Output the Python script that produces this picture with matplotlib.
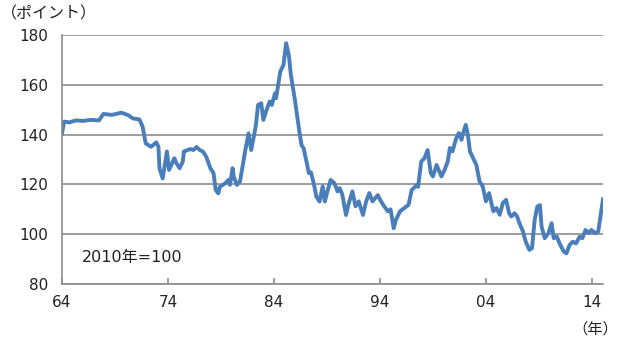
import matplotlib.pyplot as plt

plt.rcParams['font.family'] = ['DejaVu Sans', 'Noto Sans CJK JP']

# index values (year as decimal, 2010 = 100)
years = [
    1964.0, 1964.2, 1964.7, 1965.3, 1966.0, 1966.7, 1967.5, 1967.9, 1968.7, 1969.6,
    1970.2, 1970.7, 1971.3, 1971.6, 1971.9, 1972.4, 1972.9, 1973.1, 1973.2, 1973.5,
    1973.9, 1974.1, 1974.6, 1974.8, 1975.1, 1975.4, 1975.5, 1976.1, 1976.4, 1976.7,
    1977.0, 1977.3, 1977.6, 1978.0, 1978.3, 1978.5, 1978.75, 1978.9, 1979.4, 1979.7,
    1979.85, 1980.1, 1980.2, 1980.5, 1980.8, 1981.3, 1981.6, 1981.85, 1982.1, 1982.3,
    1982.5, 1982.8, 1983.0, 1983.3, 1983.6, 1983.8, 1984.1, 1984.2, 1984.6, 1984.9,
    1985.15, 1985.4, 1985.6, 1986.0, 1986.4, 1986.6, 1986.8, 1987.1, 1987.3, 1987.5,
    1987.8, 1988.0, 1988.3, 1988.6, 1988.8, 1989.0, 1989.35, 1989.7, 1990.0, 1990.2,
    1990.45, 1990.8, 1991.0, 1991.4, 1991.7, 1992.0, 1992.4, 1992.7, 1993.0, 1993.3,
    1993.8, 1994.1, 1994.4, 1994.75, 1995.0, 1995.3, 1995.5, 1995.9, 1996.3, 1996.7,
    1997.0, 1997.5, 1997.6, 1997.9, 1998.2, 1998.5, 1998.8, 1999.0, 1999.35, 1999.8,
    2000.1, 2000.4, 2000.6, 2000.85, 2001.2, 2001.45, 2001.7, 2001.85, 2002.1, 2002.3,
    2002.5, 2002.8, 2003.1, 2003.4, 2003.7, 2004.0, 2004.3, 2004.7, 2005.0, 2005.3,
    2005.6, 2005.9, 2006.2, 2006.4, 2006.7, 2006.95, 2007.1, 2007.5, 2007.75, 2008.1,
    2008.35, 2008.6, 2008.85, 2009.1, 2009.25, 2009.55, 2009.9, 2010.2, 2010.4, 2010.7,
    2010.95, 2011.35, 2011.6, 2011.9, 2012.2, 2012.5, 2012.85, 2013.1, 2013.4, 2013.7,
    2013.95, 2014.3, 2014.6, 2015.05,
]
values = [
    140.5, 145.2, 144.9, 145.7, 145.5, 145.9, 145.7, 148.3, 147.9, 148.8,
    147.9, 146.5, 146.1, 143.3, 136.5, 135.1, 136.9, 135.1, 126.4, 122.4,
    133.2, 125.8, 130.5, 128.5, 126.5, 129.2, 133.2, 134.2, 133.8, 135.0,
    133.8, 133.2, 131.2, 126.5, 124.5, 117.8, 116.4, 119.1, 120.4, 121.8,
    119.8, 126.5, 123.2, 119.8, 121.2, 133.8, 140.5, 133.8, 139.2, 143.9,
    151.9, 152.6, 145.9, 149.9, 153.3, 151.9, 156.6, 154.6, 165.3, 168.0,
    176.7, 172.0, 163.9, 153.3, 141.2, 135.8, 134.5, 128.5, 124.5, 124.8,
    119.5, 115.1, 113.1, 119.2, 113.1, 116.5, 121.8, 120.5, 117.2, 118.5,
    115.9, 107.7, 111.5, 117.2, 111.2, 113.2, 107.7, 113.2, 116.5, 113.2,
    115.7, 113.2, 111.2, 109.2, 110.0, 102.4, 105.7, 109.2, 110.5, 111.8,
    117.8, 119.8, 119.0, 129.2, 130.5, 133.8, 124.5, 123.2, 127.8, 123.2,
    125.8, 129.2, 134.6, 133.3, 138.6, 140.6, 137.9, 140.6, 143.9, 139.9,
    133.2, 130.5, 127.8, 121.2, 119.2, 113.2, 116.5, 109.2, 110.5, 107.8,
    112.5, 113.8, 108.4, 107.1, 108.4, 107.1, 105.1, 101.1, 97.1, 93.7,
    94.4, 105.7, 111.1, 111.7, 103.1, 98.4, 100.4, 104.4, 98.4, 99.0,
    96.3, 93.0, 92.3, 95.7, 97.0, 96.3, 99.0, 98.4, 101.7, 100.4,
    101.7, 100.4, 101.1, 114.0,
]

tick_years = [1964, 1974, 1984, 1994, 2004, 2014]
tick_labels = ['64', '74', '84', '94', '04', '14']
y_ticks = [80, 100, 120, 140, 160, 180]

grid_color = '#8c8c8c'
text_color = '#222222'
cjk = ['Noto Sans CJK JP']

fig = plt.figure(figsize=(6.19, 3.39), dpi=100)
ax = fig.add_axes([62 / 619, 1 - 284 / 339, 541 / 619, 249 / 339])

ax.plot(years, values, color='#4a7ebb', lw=2.8, solid_joinstyle='round')

ax.set_xlim(1964.0, 2015.05)
ax.set_ylim(80, 180)
ax.set_yticks(y_ticks)
ax.set_xticks(tick_years)
ax.set_xticklabels(tick_labels)
ax.grid(axis='y', color=grid_color, lw=1.2)
ax.set_axisbelow(True)

for side in ['top', 'right']:
    ax.spines[side].set_visible(False)
for side in ['left', 'bottom']:
    ax.spines[side].set_color(grid_color)
    ax.spines[side].set_linewidth(1.2)

ax.tick_params(axis='y', length=0, pad=10, labelsize=11, labelcolor=text_color)
ax.tick_params(axis='x', direction='in', length=4, width=1.2, color=grid_color,
               pad=8, labelsize=11, labelcolor=text_color)

fig.text(1 / 619, 1 - 14 / 339, '（ポイント）', fontsize=11.5, family=cjk,
         va='center', ha='left', color=text_color)
fig.text(618 / 619, 1 - 329 / 339, '（年）', fontsize=11, family=cjk,
         va='center', ha='right', color=text_color)
ax.text(0.037, 0.108, '2010年=100', transform=ax.transAxes, fontsize=11.5,
        va='center', ha='left', color=text_color)

fig.savefig('out.png', dpi=100)
